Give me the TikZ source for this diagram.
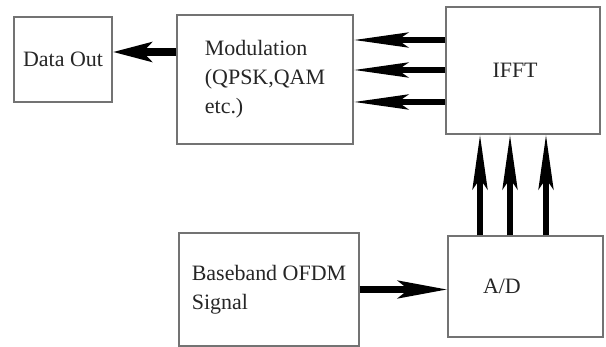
\documentclass[tikz,border=0pt]{standalone}
\usepackage{fontspec}
\setmainfont{Liberation Serif}
\usetikzlibrary{arrows.meta, positioning, calc}
\tikzset{
    block/.style={draw=black!55, line width=0.8pt, rectangle, fill=white, text=black!85, align=left, font=\fontsize{12.5}{16.5}\selectfont, inner sep=2pt},
    fat/.style={line width=3.6pt, draw=black, -{Stealth[length=31pt, width=8.5pt, inset=6pt]}},
    fatter/.style={line width=4.4pt, draw=black, -{Stealth[length=22pt, width=11pt, inset=5pt]}}
}
\begin{document}
\begin{tikzpicture}[x=0.02cm, y=-0.02cm]
    \useasboundingbox (0,0) rectangle (606,347);

    % Blocks
    \node[block, minimum width=1.96cm, minimum height=1.70cm] (out) at (63,59.5) {Data Out};
    \node[block, minimum width=3.52cm, minimum height=2.58cm] (mod) at (265,79.5) {Modulation\\(QPSK,QAM\\etc.)};
    \node[block, minimum width=3.08cm, minimum height=2.54cm, text width=1.22cm, inner xsep=0.93cm] (ifft) at (523,70.5) {IFFT};
    \node[block, minimum width=3.60cm, minimum height=2.26cm] (base) at (269,289.5) {Baseband OFDM\\Signal};
    \node[block, minimum width=3.10cm, minimum height=2.02cm, text width=1.70cm, inner xsep=0.70cm] (ad) at (525.5,286.5) {A/D};

    % Baseband -> A/D
    \draw[fat, line width=4pt, -{Stealth[length=28pt, width=10pt, inset=6pt]}] (base.east) -- (base.east -| ad.west);

    % A/D -> IFFT (three parallel lines)
    \foreach \dx [count=\i] in {-0.91,-0.31,0.41} {
        \coordinate (up\i) at ([xshift=\dx cm]ad.north);
        \draw[fat] (up\i) -- (up\i |- ifft.south);
    }

    % IFFT -> Modulation
    \foreach \dy [count=\i] in {0.61,0.01,-0.63} {
        \coordinate (lf\i) at ([yshift=\dy cm]ifft.west);
        \draw[fat] (lf\i) -- (lf\i -| mod.east);
    }

    % Modulation -> Data Out
    \coordinate (dl) at ([yshift=0.55cm]mod.west);
    \draw[fatter] (dl) -- (dl -| out.east);
\end{tikzpicture}
\end{document}
